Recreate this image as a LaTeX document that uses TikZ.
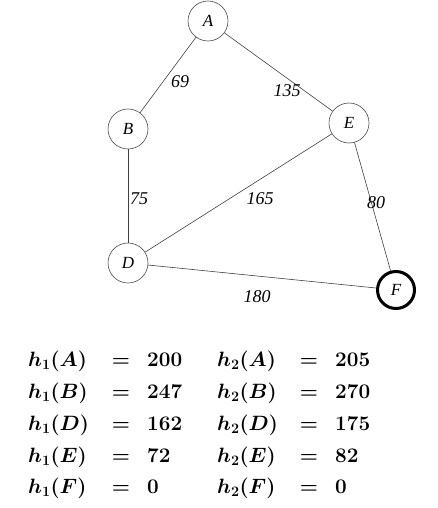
\documentclass[tikz,border=0pt]{standalone}
\usepackage{fontspec}
\newfontfamily\timesfont{Liberation Serif}
\begin{document}
\begin{tikzpicture}[x=1pt,y=-1pt,
  vert/.style={circle,draw=black!70,line width=0.6pt,minimum size=40pt,inner sep=0pt,font=\timesfont\itshape\fontsize{17}{17}\selectfont},
  goal/.style={vert,draw=black,line width=3pt,minimum size=37pt},
  edge/.style={draw=black!75,line width=0.6pt},
  wlabel/.style={font=\timesfont\itshape\fontsize{18}{18}\selectfont,inner sep=1pt},
  cell/.style={anchor=base west,inner sep=0pt,font=\fontsize{20}{20}\selectfont\boldmath},
  eqcell/.style={anchor=base,inner sep=0pt,font=\fontsize{20}{20}\selectfont\boldmath}]
\useasboundingbox (0,0) rectangle (437,508);
\node[vert] (A) at (208,21) {A};
\node[vert] (B) at (128,129) {B};
\node[vert] (E) at (349,123) {E};
\node[vert] (D) at (128,263) {D};
\node[goal] (F) at (396,290) {F};
\draw[edge] (A) -- (B);
\draw[edge] (A) -- (E);
\draw[edge] (B) -- (D);
\draw[edge] (E) -- (D);
\draw[edge] (E) -- (F);
\draw[edge] (D) -- (F);
\node[wlabel] (l69) at (180,82) {69};
\node[wlabel] (l135) at (287,91) {135};
\node[wlabel] (l75) at (139,199) {75};
\node[wlabel] (l165) at (260,199) {165};
\node[wlabel] (l80) at (376,203) {80};
\node[wlabel] (l180) at (257,297) {180};
\foreach \v/\a/\b/\y [count=\i] in {A/200/205/366, B/247/270/398, D/162/175/430, E/72/82/462, F/0/0/493}{
  \node[cell] (ha\i) at (28,\y) {$h_1(\v)$};
  \node[eqcell] (ea\i) at (121,\y) {$=$};
  \node[cell] (va\i) at (147,\y) {$\a$};
  \node[cell] (hb\i) at (217,\y) {$h_2(\v)$};
  \node[eqcell] (eb\i) at (309,\y) {$=$};
  \node[cell] (vb\i) at (335,\y) {$\b$};
}
\end{tikzpicture}
\end{document}
